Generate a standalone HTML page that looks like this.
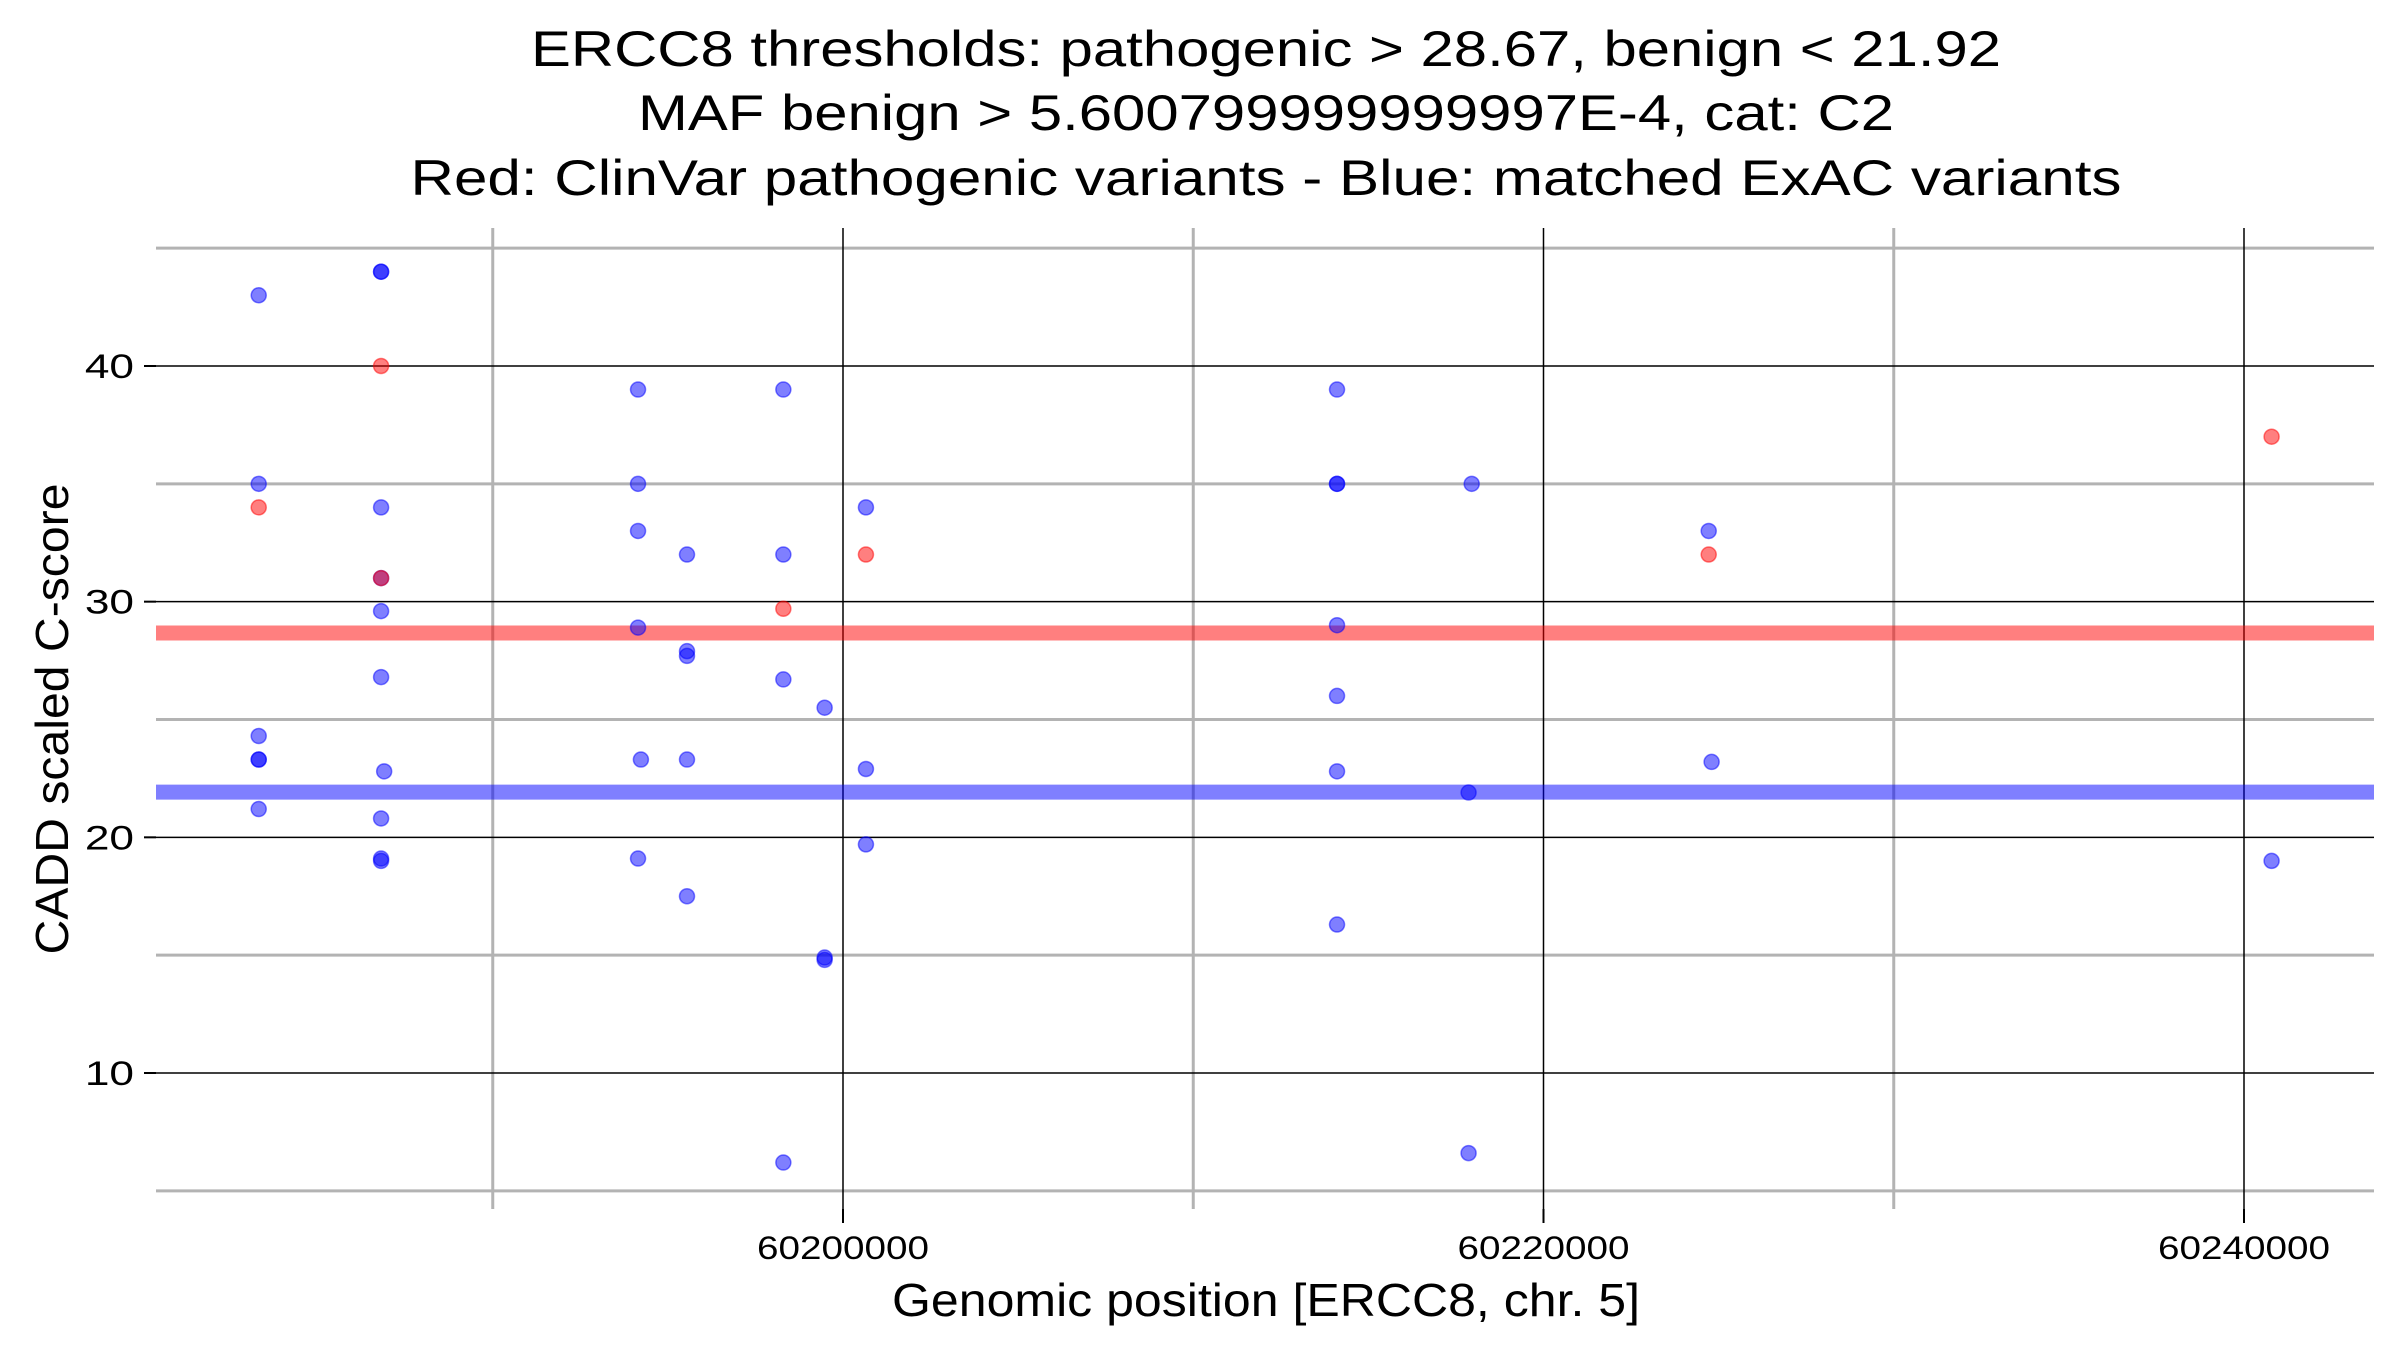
<!DOCTYPE html>
<html><head><meta charset="utf-8"><style>
html,body{margin:0;padding:0;background:#fff;}
svg{display:block;font-family:"Liberation Sans",sans-serif;}
</style></head><body>
<svg id="chart" width="2400" height="1350" viewBox="0 0 2400 1350" xmlns="http://www.w3.org/2000/svg">
<rect width="2400" height="1350" fill="#fff"/>
<g font-size="50" text-anchor="middle" fill="#000">
<text x="1266" y="66" textLength="1470" lengthAdjust="spacingAndGlyphs">ERCC8 thresholds: pathogenic &gt; 28.67, benign &lt; 21.92</text>
<text x="1266" y="130" textLength="1256" lengthAdjust="spacingAndGlyphs">MAF benign &gt; 5.600799999999997E-4, cat: C2</text>
<text x="1266" y="195" textLength="1711" lengthAdjust="spacingAndGlyphs">Red: ClinVar pathogenic variants - Blue: matched ExAC variants</text>
</g>
<g id="grid"></g>
<g id="marks"></g>
<g id="axes"></g>
<text x="1266" y="1316" font-size="46" text-anchor="middle" textLength="748" lengthAdjust="spacingAndGlyphs">Genomic position [ERCC8, chr. 5]</text>
<text transform="translate(68,719) rotate(-90)" font-size="46" text-anchor="middle" textLength="471" lengthAdjust="spacingAndGlyphs">CADD scaled C-score</text>
</svg>
<script>
const xMajorTicks = [60200000, 60220000, 60240000];
const xMinorTicks = [60190000, 60210000, 60230000];
const yMajorTicks = [10, 20, 30, 40];
const yMinorTicks = [5, 15, 25, 35, 45];
const pathogenicThreshold = 28.67;
const benignThreshold = 21.92;
const blueX = [60183318,60183318,60183318,60183318,60183318,60183318,
 60186812,60186812,60186812,60186812,60186812,60186812,60186900,60186812,60186812,60186812,
 60194148,60194148,60194148,60194148,60194230,60194148,
 60195546,60195546,60195546,60195546,60195546,
 60198297,60198297,60198297,60198297,
 60199476,60199476,60199476,
 60200655,60200655,60200655,
 60214105,60214105,60214105,60214105,60214105,60214105,60214105,
 60217950,60217861,60217861,
 60224717,60224800,
 60240788];
const blueY = [43,35,24.3,23.3,23.3,21.2,
 44,44,34,31,29.6,26.8,22.8,20.8,19.1,19.0,
 39,35,33,28.9,23.3,19.1,
 32,27.9,27.7,23.3,17.5,
 39,32,26.7,6.2,
 25.5,14.8,14.9,
 34,22.9,19.7,
 39,35,35,29,26,22.8,16.3,
 35,21.9,6.6,
 33,23.2,
 19];
const redX = [60183318,60186812,60186812,60198297,60200655,60224717,60240788];
const redY = [34,40,31,29.7,32,32,37];

const L=156,R=2374,T=228,B=1209;
function xs(g){return 843+(g-60200000)*0.035025;}
function ys(v){return 1073-(v-10)*23.567;}
const NS="http://www.w3.org/2000/svg";
function mk(parent,tag,attrs){const e=document.createElementNS(NS,tag);for(const k in attrs)e.setAttribute(k,attrs[k]);parent.appendChild(e);return e;}
const grid=document.getElementById('grid'),marks=document.getElementById('marks'),axes=document.getElementById('axes');
yMinorTicks.forEach(v=>{const l=mk(grid,'line',{x1:L,x2:R,y1:ys(v),y2:ys(v),stroke:'#b3b3b3','stroke-width':3});

});
xMinorTicks.forEach(g=>{const l=mk(grid,'line',{x1:xs(g),x2:xs(g),y1:T,y2:B,stroke:'#b3b3b3','stroke-width':3});

});
yMajorTicks.forEach(v=>{const l=mk(grid,'line',{x1:L,x2:R,y1:ys(v),y2:ys(v),stroke:'#000','stroke-width':1.5});


const t=mk(axes,'line',{x1:144,x2:L,y1:ys(v),y2:ys(v),stroke:'#000','stroke-width':2});


const tx=mk(axes,'text',{x:134,y:ys(v)+12,'font-size':34,'text-anchor':'end','transform':'translate(134,0) scale(1.3,1) translate(-134,0)'});tx.textContent=v;

});
xMajorTicks.forEach(g=>{const l=mk(grid,'line',{x1:xs(g),x2:xs(g),y1:T,y2:B,stroke:'#000','stroke-width':1.5});


const t=mk(axes,'line',{x1:xs(g),x2:xs(g),y1:B,y2:B+14,stroke:'#000','stroke-width':2});


const tx=mk(axes,'text',{x:xs(g),y:1259,'font-size':32,'text-anchor':'middle',textLength:172,lengthAdjust:'spacingAndGlyphs'});tx.textContent=g;

});
const pl=mk(marks,'line',{x1:L,x2:R,y1:ys(pathogenicThreshold),y2:ys(pathogenicThreshold),stroke:'rgba(255,0,0,0.5)','stroke-width':15});


const bl=mk(marks,'line',{x1:L,x2:R,y1:ys(benignThreshold),y2:ys(benignThreshold),stroke:'rgba(0,0,255,0.5)','stroke-width':15});


blueX.forEach((g,i)=>{const c=mk(marks,'circle',{cx:xs(g),cy:ys(blueY[i]),r:7.5,fill:'rgba(0,0,255,0.5)',stroke:'rgba(0,0,255,0.5)','stroke-width':1.5});

});
redX.forEach((g,i)=>{const c=mk(marks,'circle',{cx:xs(g),cy:ys(redY[i]),r:7.5,fill:'rgba(255,0,0,0.5)',stroke:'rgba(255,0,0,0.5)','stroke-width':1.5});

});
</script>
</body></html>
